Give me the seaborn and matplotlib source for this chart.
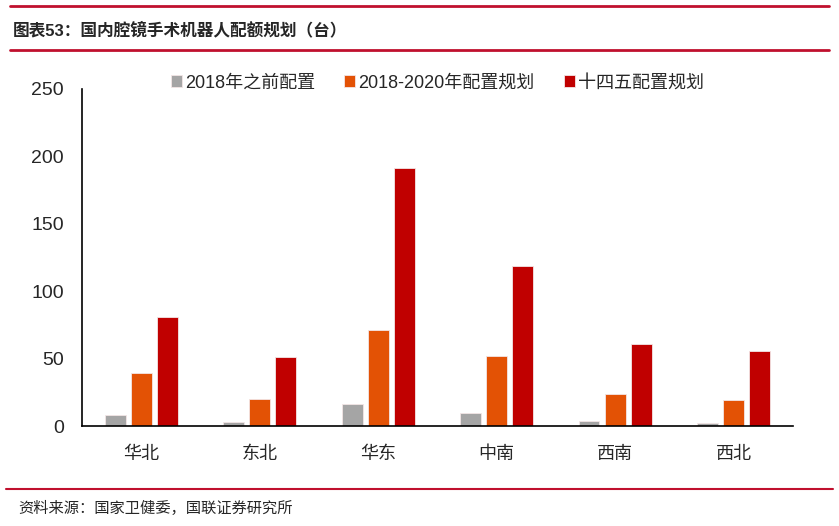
import matplotlib
matplotlib.use('Agg')
import matplotlib.pyplot as plt
from matplotlib.lines import Line2D
import seaborn as sns
import pandas as pd

regions = ['华北', '东北', '华东', '中南', '西南', '西北']
before_2018 = [8, 3, 16, 10, 4, 2]
plan_2018_2020 = [39, 20, 71, 52, 24, 19]
plan_14th = [81, 51, 191, 119, 61, 56]
series_names = ['2018年之前配置', '2018-2020年配置规划', '十四五配置规划']
colors = ['#A5A5A5', '#E35205', '#C00000']
y_ticks = [0, 50, 100, 150, 200, 250]

df = pd.DataFrame({
    'region': regions * 3,
    'value': before_2018 + plan_2018_2020 + plan_14th,
    'series': [s for s in series_names for _ in regions],
})

sns.set_style('white')
plt.rcParams['font.family'] = ['Liberation Sans', 'Noto Sans CJK SC', 'DejaVu Sans']

fig = plt.figure(figsize=(8.39, 5.26), dpi=100)
ax = fig.add_axes([0.0977, 0.190, 0.8473, 0.641])

sns.barplot(data=df, x='region', y='value', hue='series', order=regions,
            hue_order=series_names, palette=colors, saturation=1, width=0.66, gap=0.2,
            edgecolor='#F3E6E6', linewidth=0.6, ax=ax, legend=True)

ax.set_ylim(0, 250)
ax.set_yticks(y_ticks)
ax.set_xlim(-0.5, len(regions) - 0.5)
ax.set_xticks([i - 0.5 for i in range(len(regions) + 1)])
ax.set_xticklabels([])
ax.set_xticks(range(len(regions)), minor=True)
ax.set_xticklabels(regions, minor=True, fontsize=13)
ax.tick_params(axis='x', which='minor', length=0, pad=14)
ax.tick_params(axis='x', which='major', direction='out', length=5, width=1.2, color='black')
ax.tick_params(axis='y', direction='out', length=5, width=1.2, color='black', labelsize=14, pad=8)
ax.set_xlabel('')
ax.set_ylabel('')
for side in ['top', 'right']:
    ax.spines[side].set_visible(False)
for side in ['left', 'bottom']:
    ax.spines[side].set_color('black')
    ax.spines[side].set_linewidth(1.2)

ax.legend(loc='center', bbox_to_anchor=(0.5, 1.018), ncol=3, frameon=False,
          fontsize=13, handlelength=0.6, handleheight=0.6, handletextpad=0.2,
          columnspacing=1.6, borderaxespad=0)

# header / footer decorations
red = '#C0102E'
fig.add_artist(Line2D([10 / 839, 829 / 839], [1 - 6 / 526, 1 - 6 / 526], color=red, lw=2))
fig.add_artist(Line2D([10 / 839, 829 / 839], [1 - 50 / 526, 1 - 50 / 526], color=red, lw=2))
fig.add_artist(Line2D([6 / 839, 833 / 839], [1 - 489 / 526, 1 - 489 / 526], color=red, lw=1.5))
fig.text(13 / 839, 1 - 30 / 526, '图表53：国内腔镜手术机器人配额规划（台）', fontsize=12,
         fontweight='bold', va='center', ha='left')
fig.text(18 / 839, 1 - 508 / 526, '资料来源：国家卫健委，国联证券研究所', fontsize=11,
         va='center', ha='left')

fig.savefig('out.png', dpi=100)
